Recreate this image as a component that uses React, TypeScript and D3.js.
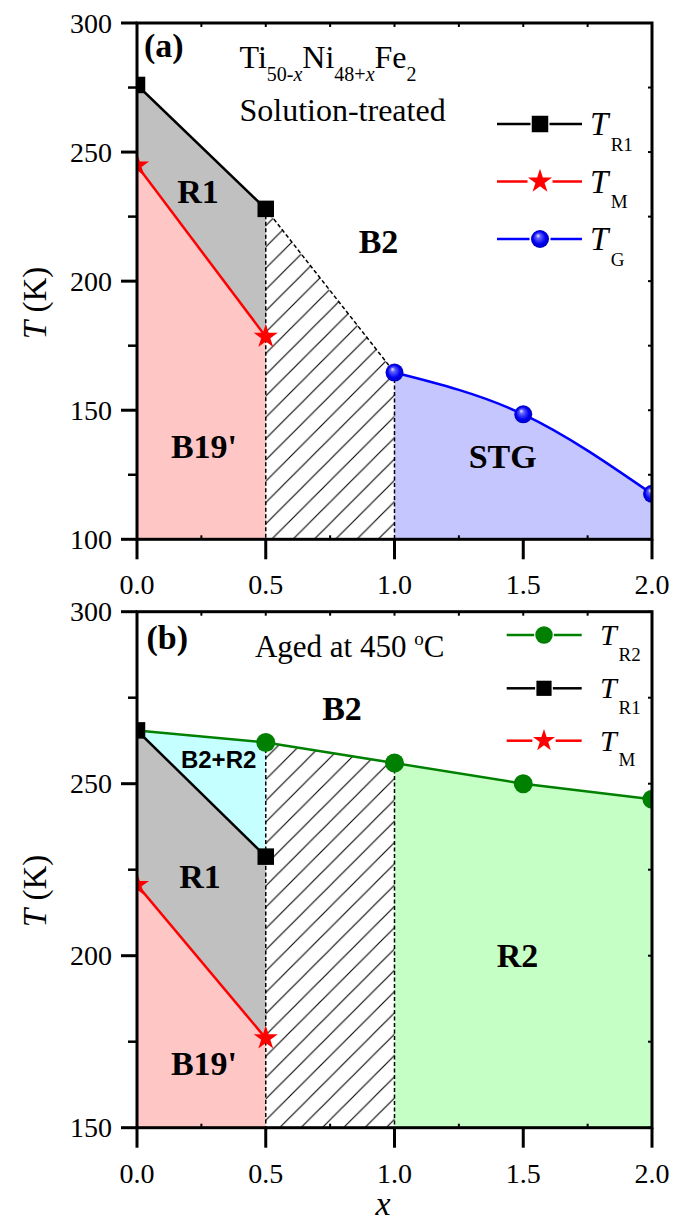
import React from 'react';
import * as d3 from 'd3';

// ---------- data ----------
const X_TICKS = [0, 0.5, 1, 1.5, 2];
const X_TICK_LABELS = ['0.0', '0.5', '1.0', '1.5', '2.0'];
const X_MINOR = [0.25, 0.75, 1.25, 1.75];

// panel (a) Solution-treated
const A_X_R1 = [0, 0.5];
const A_T_R1 = [276, 228];
const A_X_M = [0, 0.5];
const A_T_M = [244.8, 178.5];
const A_X_G = [1, 1.5, 2];
const A_T_G = [164.6, 148.4, 117.6];
const A_Y_TICKS = [100, 150, 200, 250, 300];
const A_Y_MINOR = [125, 175, 225, 275];

// panel (b) Aged at 450 C
const B_X_R2 = [0.5, 1, 1.5, 2];
const B_T_R2 = [262, 256, 250, 245.5];
const B_X_R1 = [0, 0.5];
const B_T_R1 = [265.5, 228.8];
const B_X_M = [0, 0.5];
const B_T_M = [220.6, 176];
const B_Y_TICKS = [150, 200, 250, 300];
const B_Y_MINOR = [175, 225, 275];

const SERIF = "'Liberation Serif','Times New Roman',Times,serif";
const SANS = "'Liberation Sans',Arial,sans-serif";

const x = d3.scaleLinear().domain([0, 2]).range([137, 652]);
const yA = d3.scaleLinear().domain([100, 300]).range([539.3, 23]);
const yB = d3.scaleLinear().domain([150, 300]).range([1127.7, 611.7]);

type Sc = d3.ScaleLinear<number, number>;

const zip = (xs: number[], ts: number[]) => xs.map((v, i) => [v, ts[i]] as [number, number]);

function Square({ cx, cy, s }: { cx: number; cy: number; s: number }) {
  return <rect x={cx - s / 2} y={cy - s / 2} width={s} height={s} fill="#000" />;
}
function Star({ cx, cy, size }: { cx: number; cy: number; size: number }) {
  const p = d3.symbol().type(d3.symbolStar).size(size)() as string;
  return <path d={p} transform={`translate(${cx},${cy})`} fill="#ff0000" />;
}
function Ball({ cx, cy, r }: { cx: number; cy: number; r: number }) {
  return <circle cx={cx} cy={cy} r={r} fill="url(#ballGrad)" />;
}
function GreenDot({ cx, cy, r }: { cx: number; cy: number; r: number }) {
  return <circle cx={cx} cy={cy} r={r} fill="#008000" />;
}

function Frame({ y, yTicks, yMinor, tickBaseline, titleCy }: { y: Sc; yTicks: number[]; yMinor: number[]; tickBaseline: number; titleCy: number }) {
  const [y0, y1] = [y(y.domain()[0]), y(y.domain()[1])];
  const x0 = x(0), x1 = x(2);
  const allY = [...yTicks, ...yMinor];
  const allX = [...X_TICKS, ...X_MINOR];
  return (
    <g>
      {allX.map((v) => (
        <line key={'t' + v} x1={x(v)} x2={x(v)} y1={y1} y2={y1 + 4} stroke="#000" strokeWidth={2} />
      ))}
      {allY.map((v) => (
        <line key={'r' + v} x1={x1} x2={x1 - 4} y1={y(v)} y2={y(v)} stroke="#000" strokeWidth={2} />
      ))}
      {X_TICKS.map((v) => (
        <line key={'b' + v} x1={x(v)} x2={x(v)} y1={y0} y2={y0 + 20} stroke="#000" strokeWidth={3} />
      ))}
      {X_MINOR.map((v) => (
        <line key={'bm' + v} x1={x(v)} x2={x(v)} y1={y0} y2={y0 - 4} stroke="#000" strokeWidth={2} />
      ))}
      {yTicks.map((v) => (
        <line key={'l' + v} x1={x0 - 16} x2={x0} y1={y(v)} y2={y(v)} stroke="#000" strokeWidth={3} />
      ))}
      {yMinor.map((v) => (
        <line key={'lm' + v} x1={x0 - 9} x2={x0} y1={y(v)} y2={y(v)} stroke="#000" strokeWidth={2.5} />
      ))}
      <rect x={x0} y={y1} width={x1 - x0} height={y0 - y1} fill="none" stroke="#000" strokeWidth={3} />
      {yTicks.map((v) => (
        <text key={'yl' + v} x={112} y={y(v) + 9.5} textAnchor="end" fontFamily={SERIF} fontSize={28}>
          {v}
        </text>
      ))}
      {X_TICKS.map((v, i) => (
        <text key={'xl' + v} x={x(v)} y={tickBaseline} textAnchor="middle" fontFamily={SERIF} fontSize={28}>
          {X_TICK_LABELS[i]}
        </text>
      ))}
      <text transform={`translate(46,${titleCy}) rotate(-90)`} textAnchor="middle" fontFamily={SERIF} fontSize={33}>
        <tspan fontStyle="italic">T</tspan> (K)
      </text>
    </g>
  );
}

type LegRow = { kind: 'sq' | 'star' | 'ball' | 'dot'; color: string; sub: string };

function Legend({ rows, ys, lx0, lx1, mx, tx, tFont, tDy, sx, sDy, sFont, scale }: any) {
  return (
    <g>
      {(rows as LegRow[]).map((r, i) => {
        const cy = ys[i];
        const half = r.kind === 'sq' ? 8 * scale + 1.5 : r.kind === 'star' ? 11 * scale + 1.5 : 9 * scale + 1.5;
        return (
          <g key={i}>
            <line x1={lx0} x2={mx - half} y1={cy} y2={cy} stroke={r.color} strokeWidth={2.5} />
            <line x1={mx + half} x2={lx1} y1={cy} y2={cy} stroke={r.color} strokeWidth={2.5} />
            {r.kind === 'sq' && <Square cx={mx} cy={cy} s={16.5 * scale} />}
            {r.kind === 'star' && <Star cx={mx} cy={cy} size={180 * scale * scale} />}
            {r.kind === 'ball' && <Ball cx={mx} cy={cy} r={9 * scale} />}
            {r.kind === 'dot' && <GreenDot cx={mx} cy={cy} r={9.5 * scale} />}
            <text x={tx} y={cy + tDy} fontFamily={SERIF} fontSize={tFont} fontStyle="italic">T</text>
            <text x={sx} y={cy + sDy} fontFamily={SERIF} fontSize={sFont}>{r.sub}</text>
          </g>
        );
      })}
    </g>
  );
}

function Bold({ x: px, y: py, children, size = 34, family = SERIF }: any) {
  return (
    <text x={px} y={py} textAnchor="middle" fontFamily={family} fontWeight="bold" fontSize={size}>
      {children}
    </text>
  );
}

export default function App() {
  // ----- panel a geometry -----
  const aR1 = zip(A_X_R1, A_T_R1);
  const aM = zip(A_X_M, A_T_M);
  const aG = zip(A_X_G, A_T_G);
  const lineA = d3.line<[number, number]>().x((d) => x(d[0])).y((d) => yA(d[1]));
  const curveA = d3.line<[number, number]>().x((d) => x(d[0])).y((d) => yA(d[1])).curve(d3.curveNatural);
  const areaGA = d3.area<[number, number]>().x((d) => x(d[0])).y0(yA(100)).y1((d) => yA(d[1])).curve(d3.curveNatural);
  const polyA = (pts: [number, number][]) => lineA(pts) + 'Z';

  const aGray = polyA([aR1[0], aR1[1], aM[1], aM[0]]);
  const aPink = polyA([aM[0], aM[1], [0.5, 100], [0, 100]]);
  const aHatch = polyA([aR1[1], aG[0], [1, 100], [0.5, 100]]);

  // ----- panel b geometry -----
  const bR1 = zip(B_X_R1, B_T_R1);
  const bM = zip(B_X_M, B_T_M);
  const bR2 = zip(B_X_R2, B_T_R2);
  const bGreenLine: [number, number][] = [[0, B_T_R1[0]], ...bR2];
  const lineB = d3.line<[number, number]>().x((d) => x(d[0])).y((d) => yB(d[1]));
  const polyB = (pts: [number, number][]) => lineB(pts) + 'Z';
  const bCyan = polyB([[0, B_T_R1[0]], bR2[0], bR1[1]]);
  const bGray = polyB([bR1[0], bR1[1], bM[1], bM[0]]);
  const bPink = polyB([bM[0], bM[1], [0.5, 150], [0, 150]]);
  const bHatch = polyB([bR2[0], bR2[1], [1, 150], [0.5, 150]]);
  const bGreen = polyB([...bR2.slice(1), [2, 150], [1, 150]]);

  const dash = '4,2.5';

  return (
    <svg width={685} height={1226} style={{ position: 'absolute', left: 0, top: 0, background: '#fff' }}>
      <defs>
        <radialGradient id="ballGrad" cx="0.5" cy="0.5" r="0.5" fx="0.38" fy="0.3">
          <stop offset="0%" stopColor="#f0f0ff" />
          <stop offset="25%" stopColor="#6060ff" />
          <stop offset="70%" stopColor="#0000f0" />
          <stop offset="100%" stopColor="#0000c0" />
        </radialGradient>
        <pattern id="hatchA" patternUnits="userSpaceOnUse" width={21.3} height={21.3} x={1.5} y={0}>
          <path d="M-2,2 L2,-2 M0,21.3 L21.3,0 M19.3,23.3 L23.3,19.3" stroke="#000" strokeWidth={1.1} />
        </pattern>
        <clipPath id="clipA">
          <rect x={x(0)} y={yA(300)} width={x(2) - x(0)} height={yA(100) - yA(300)} />
        </clipPath>
        <clipPath id="clipB">
          <rect x={x(0)} y={yB(300)} width={x(2) - x(0)} height={yB(150) - yB(300)} />
        </clipPath>
      </defs>

      {/* ================= Panel (a) ================= */}
      <g clipPath="url(#clipA)">
        <path d={aPink} fill="#ffc6c6" />
        <path d={aGray} fill="#c0c0c0" />
        <path d={areaGA(aG) as string} fill="#c6c6ff" />
        <path d={aHatch} fill="url(#hatchA)" />
        <line x1={x(0.5)} x2={x(0.5)} y1={yA(A_T_R1[1])} y2={yA(100)} stroke="#000" strokeWidth={1.5} strokeDasharray={dash} />
        <line x1={x(1)} x2={x(1)} y1={yA(A_T_G[0])} y2={yA(100)} stroke="#000" strokeWidth={1.5} strokeDasharray={dash} />
        <path d={lineA([aR1[1], aG[0]]) as string} fill="none" stroke="#000" strokeWidth={1.5} strokeDasharray={dash} />
        <path d={lineA(aR1) as string} fill="none" stroke="#000" strokeWidth={2.5} />
        <path d={lineA(aM) as string} fill="none" stroke="#ff0000" strokeWidth={2.5} />
        <path d={curveA(aG) as string} fill="none" stroke="#0000ff" strokeWidth={2.5} />
        {aR1.map((d, i) => <Square key={'asq' + i} cx={x(d[0])} cy={yA(d[1])} s={16.5} />)}
        {aM.map((d, i) => <Star key={'ast' + i} cx={x(d[0])} cy={yA(d[1])} size={180} />)}
        {aG.map((d, i) => <Ball key={'ab' + i} cx={x(d[0])} cy={yA(d[1])} r={9} />)}
      </g>
      <Frame y={yA} yTicks={A_Y_TICKS} yMinor={A_Y_MINOR} tickBaseline={594} titleCy={303} />
      <text x={x(0.027)} y={yA(286.8)} fontFamily={SERIF} fontWeight="bold" fontSize={34}>(a)</text>
      <text x={x(0.398)} y={yA(282.5)} fontFamily={SERIF} fontSize={32}>
        Ti<tspan fontSize={20} dy={13}>50-</tspan><tspan fontSize={20} fontStyle="italic">x</tspan>
        <tspan dy={-13}>Ni</tspan><tspan fontSize={20} dy={13}>48+</tspan><tspan fontSize={20} fontStyle="italic">x</tspan>
        <tspan dy={-13}>Fe</tspan><tspan fontSize={20} dy={13}>2</tspan>
      </text>
      <text x={x(0.398)} y={yA(262.2)} fontFamily={SERIF} fontSize={32}>Solution-treated</text>
      <Bold x={x(0.237)} y={yA(230.2)}>R1</Bold>
      <Bold x={x(0.938)} y={yA(210.8)}>B2</Bold>
      <Bold x={x(0.26)} y={yA(131.5)}>B19'</Bold>
      <Bold x={x(1.42)} y={yA(127.6)}>STG</Bold>
      <Legend
        rows={[
          { kind: 'sq', color: '#000', sub: 'R1' },
          { kind: 'star', color: '#ff0000', sub: 'M' },
          { kind: 'ball', color: '#0000ff', sub: 'G' },
        ]}
        ys={[124, 181.5, 239]}
        lx0={497} lx1={582} mx={540} tx={590} tFont={33} tDy={11} sx={610.7} sDy={26.7} sFont={19} scale={1}
      />

      {/* ================= Panel (b) ================= */}
      <g clipPath="url(#clipB)">
        <path d={bPink} fill="#ffc6c6" />
        <path d={bGray} fill="#c0c0c0" />
        <path d={bCyan} fill="#c6ffff" />
        <path d={bGreen} fill="#c6ffc6" />
        <path d={bHatch} fill="url(#hatchA)" />
        <line x1={x(0.5)} x2={x(0.5)} y1={yB(B_T_R2[0])} y2={yB(150)} stroke="#000" strokeWidth={1.5} strokeDasharray={dash} />
        <line x1={x(1)} x2={x(1)} y1={yB(B_T_R2[1])} y2={yB(150)} stroke="#000" strokeWidth={1.5} strokeDasharray={dash} />
        <path d={lineB(bGreenLine) as string} fill="none" stroke="#008000" strokeWidth={2.5} />
        <path d={lineB(bR1) as string} fill="none" stroke="#000" strokeWidth={2.5} />
        <path d={lineB(bM) as string} fill="none" stroke="#ff0000" strokeWidth={2.5} />
        {bR2.map((d, i) => <GreenDot key={'bg' + i} cx={x(d[0])} cy={yB(d[1])} r={9.5} />)}
        {bR1.map((d, i) => <Square key={'bsq' + i} cx={x(d[0])} cy={yB(d[1])} s={16.5} />)}
        {bM.map((d, i) => <Star key={'bst' + i} cx={x(d[0])} cy={yB(d[1])} size={180} />)}
      </g>
      <Frame y={yB} yTicks={B_Y_TICKS} yMinor={B_Y_MINOR} tickBaseline={1182.7} titleCy={891} />
      <text x={x(0.037)} y={yB(289.2)} fontFamily={SERIF} fontWeight="bold" fontSize={34}>(b)</text>
      <text x={x(0.458)} y={yB(286.7)} fontFamily={SERIF} fontSize={31}>
        Aged at 450 <tspan fontSize={19} dy={-12}>o</tspan><tspan dy={12}>C</tspan>
      </text>
      <Bold x={x(0.796)} y={yB(268.5)}>B2</Bold>
      <Bold x={x(0.317)} y={yB(254.5)} size={24} family={SANS}>B2+R2</Bold>
      <Bold x={x(0.245)} y={yB(219.7)}>R1</Bold>
      <Bold x={x(0.26)} y={yB(165.3)}>B19'</Bold>
      <Bold x={x(1.478)} y={yB(196.8)}>R2</Bold>
      <Legend
        rows={[
          { kind: 'dot', color: '#008000', sub: 'R2' },
          { kind: 'sq', color: '#000', sub: 'R1' },
          { kind: 'star', color: '#ff0000', sub: 'M' },
        ]}
        ys={[635, 688.3, 740.7]}
        lx0={506.7} lx1={581.7} mx={544} tx={600} tFont={30} tDy={10} sx={618.5} sDy={25.7} sFont={19} scale={0.92}
      />
      <text x={383} y={1215} textAnchor="middle" fontFamily={SERIF} fontSize={34} fontStyle="italic">x</text>
    </svg>
  );
}
